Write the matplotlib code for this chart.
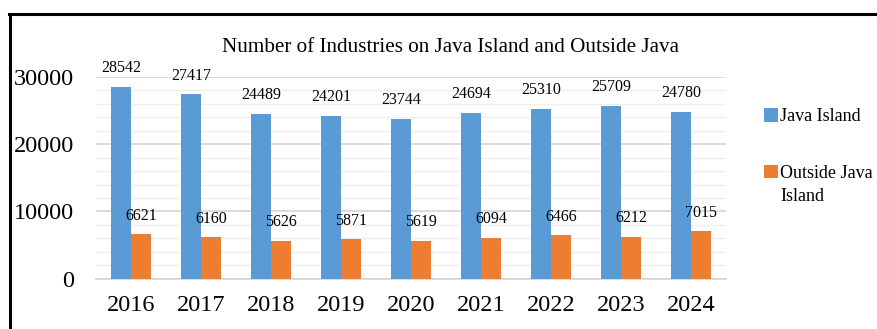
import numpy as np
import matplotlib.pyplot as plt
from matplotlib.lines import Line2D

# data
years = ["2016", "2017", "2018", "2019", "2020", "2021", "2022", "2023", "2024"]
java_island = [28542, 27417, 24489, 24201, 23744, 24694, 25310, 25709, 24780]
outside_java = [6621, 6160, 5626, 5871, 5619, 6094, 6466, 6212, 7015]
series_names = ["Java Island", "Outside Java"]
series_wrap = "Island"  # second line of the orange legend label
colors = ["#5B9BD5", "#ED7D31"]

plt.rcParams["font.family"] = ["Liberation Serif", "DejaVu Serif"]

fig = plt.figure(figsize=(8.77, 3.29), dpi=100)
ax = fig.add_axes([96 / 877, 50.4 / 329, 630 / 877, 201.6 / 329])

x = np.arange(len(years))
w = 20 / 70
b1 = ax.bar(x - w / 2, java_island, width=w, color=colors[0], label=series_names[0], zorder=3)
b2 = ax.bar(x + w / 2, outside_java, width=w, color=colors[1], label=series_names[1], zorder=3)

for bars, vals in [(b1, java_island), (b2, outside_java)]:
    for r, v in zip(bars, vals):
        ax.annotate(str(v), (r.get_x() + r.get_width() / 2, r.get_height()),
                    xytext=(0, 10.5), textcoords="offset points",
                    ha="center", va="baseline", fontsize=11.5, color="black")

ax.set_xlim(-0.5, len(years) - 0.5)
ax.set_ylim(0, 30000)
ax.set_yticks([0, 10000, 20000, 30000])
ax.set_yticks(np.arange(0, 30001, 2000), minor=True)
ax.grid(axis="y", which="major", color="#d4d4d4", linewidth=1.2, zorder=0)
ax.grid(axis="y", which="minor", color="#efefef", linewidth=1.0, zorder=0)
ax.set_xticks(x)
ax.set_xticklabels(years)
ax.tick_params(axis="both", which="both", length=0, labelsize=17.5)
ax.tick_params(axis="y", pad=16)
ax.tick_params(axis="x", pad=12)
for s in ["top", "right", "left"]:
    ax.spines[s].set_visible(False)
ax.spines["bottom"].set_color("#d4d4d4")
ax.spines["bottom"].set_linewidth(1.2)

fig.text(450 / 877, 1 - 47 / 329, "Number of Industries on Java Island and Outside Java",
         ha="center", va="center", fontsize=15.2)

leg = fig.legend(handles=[b1, b2], loc="upper left", bbox_to_anchor=(757 / 877, 1 - 101 / 329),
                 frameon=False, prop={"family": "Liberation Serif", "size": 13},
                 handlelength=0.75, handleheight=0.75,
                 handletextpad=0.15, labelspacing=2.2, borderaxespad=0)

# wrapped second line of the orange legend entry, placed under its first line
fig.canvas.draw()
t2 = leg.get_texts()[1]
bb = t2.get_window_extent().transformed(fig.transFigure.inverted())
fig.text(bb.x0, bb.y0 - 23 / 329, series_wrap, ha="left", va="bottom", fontsize=13)

# outer frame (only top and left edges are visible in the crop)
fig.add_artist(Line2D([10 / 877, 10 / 877], [0, 1 - 14 / 329], color="black", linewidth=2.2,
                      transform=fig.transFigure))
fig.add_artist(Line2D([9 / 877, 1], [1 - 14 / 329, 1 - 14 / 329], color="black", linewidth=2.2,
                      transform=fig.transFigure))

fig.savefig("out.png", dpi=100)
